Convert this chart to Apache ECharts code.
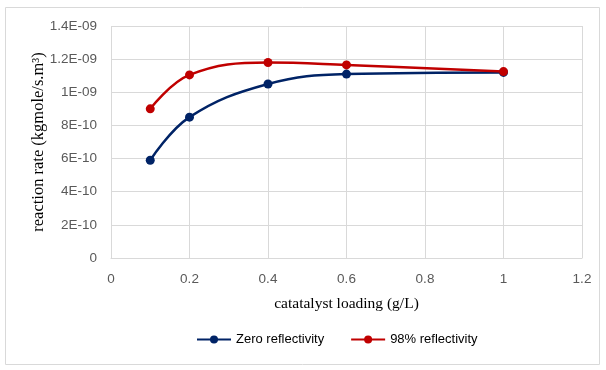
<!DOCTYPE html>
<html>
<head>
<meta charset="utf-8">
<script src="https://cdn.jsdelivr.net/npm/echarts@6/dist/echarts.min.js"></script>
<style>
  html, body { margin: 0; padding: 0; background: #fff; }
  #chart { width: 606px; height: 370px; }
</style>
</head>
<body>
<div id="chart"></div>
<script>
const loading = [0.1, 0.2, 0.4, 0.6, 1.0];
const zeroReflectivity = [5.9e-10, 8.5e-10, 1.05e-9, 1.11e-9, 1.12e-9];
const reflectivity98 = [9.0e-10, 1.105e-9, 1.18e-9, 1.165e-9, 1.125e-9];
const seriesNames = ["Zero reflectivity", "98% reflectivity"];

// Excel "General" style labels: 1.4E-09, 1E-09, 0
function sci(v) {
  if (Math.abs(v) < 1e-20) return "0";
  const [m, e] = v.toExponential(6).split("e");
  const mant = String(parseFloat(m));
  const ex = parseInt(e, 10);
  const sign = ex < 0 ? "-" : "+";
  const digits = String(Math.abs(ex)).padStart(2, "0");
  return mant + "E" + sign + digits;
}

const pairs = (ys) => loading.map((x, i) => [x, ys[i]]);

const grid = "#d9d9d9";
const tickFont = { color: "#595959", fontSize: 13.5, fontFamily: "Liberation Sans" };

const chart = echarts.init(document.getElementById("chart"), null, { renderer: "canvas" });
chart.setOption({
  animation: false,
  graphic: [{
    type: "rect",
    shape: { x: 5.5, y: 7.5, width: 594, height: 357 },
    style: { fill: "none", stroke: "#d9d9d9", lineWidth: 1 },
    silent: true
  }],
  grid: { left: 111, right: 24, top: 26, bottom: 112 },
  xAxis: {
    type: "value",
    min: 0, max: 1.2, interval: 0.2,
    axisLine: { show: true, lineStyle: { color: grid } },
    axisTick: { show: false },
    splitLine: { show: true, lineStyle: { color: grid, width: 1 } },
    axisLabel: Object.assign({ margin: 14, formatter: (v) => String(parseFloat(v.toFixed(2))) }, tickFont),
    name: "catatalyst loading (g/L)",
    nameLocation: "middle",
    nameGap: 38,
    nameTextStyle: { color: "#000", fontSize: 15.5, fontFamily: "Liberation Serif" }
  },
  yAxis: {
    type: "value",
    min: 0, max: 1.4e-9, interval: 2e-10,
    axisLine: { show: false },
    axisTick: { show: false },
    splitLine: { show: true, lineStyle: { color: grid, width: 1 } },
    axisLabel: Object.assign({ margin: 14, formatter: sci }, tickFont),
    name: "reaction rate (kgmole/s.m\u00b3)",
    nameLocation: "middle",
    nameRotate: 90,
    nameGap: 64,
    nameMoveOverlap: false,
    nameTextStyle: { color: "#000", fontSize: 16.5, fontFamily: "Liberation Serif" }
  },
  legend: {
    bottom: 19,
    left: 191,
    itemWidth: 34,
    itemHeight: 10,
    itemGap: 26,
    textStyle: { color: "#000", fontSize: 13, fontFamily: "Liberation Sans" },
    data: seriesNames
  },
  series: [
    {
      name: seriesNames[0],
      type: "line",
      smooth: 0.4,
      data: pairs(zeroReflectivity),
      symbol: "circle",
      symbolSize: 9,
      lineStyle: { color: "#002366", width: 2.5 },
      itemStyle: { color: "#002366" }
    },
    {
      name: seriesNames[1],
      type: "line",
      smooth: 0.4,
      data: pairs(reflectivity98),
      symbol: "circle",
      symbolSize: 9,
      lineStyle: { color: "#c00000", width: 2.5 },
      itemStyle: { color: "#c00000" }
    }
  ]
});
</script>
</body>
</html>
